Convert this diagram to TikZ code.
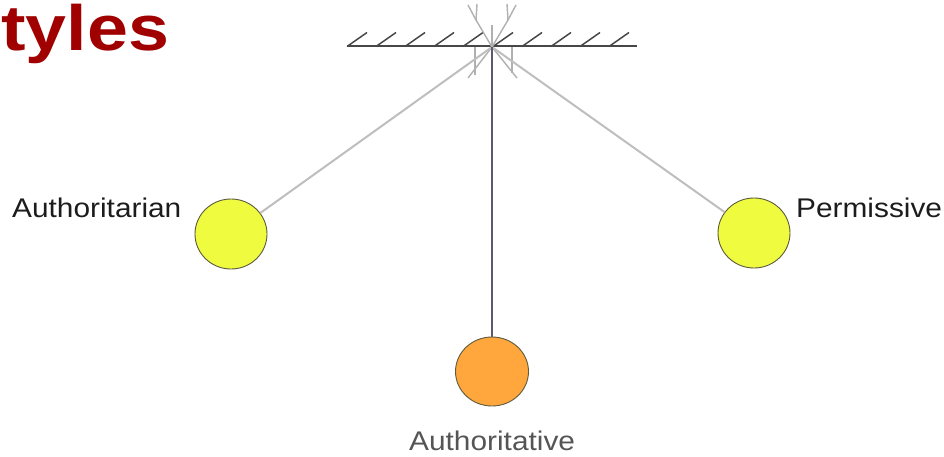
\documentclass[tikz,border=0pt]{standalone}
\usepackage{fontspec}
\setmainfont{Liberation Sans}
\usetikzlibrary{shapes.geometric}
\definecolor{titlered}{HTML}{A00000}
\definecolor{bobyellow}{HTML}{EEFB3E}
\definecolor{boborange}{HTML}{FFA73D}
\definecolor{bobedge}{HTML}{5E5A3C}
\definecolor{labeldark}{HTML}{1C1C1C}
\definecolor{labelgray}{HTML}{555555}
\definecolor{stringlight}{HTML}{BEBEBE}
\definecolor{stringdark}{HTML}{5A5A70}
\definecolor{ceilgray}{HTML}{474747}
\definecolor{ghost}{HTML}{B0B0B0}
\newcommand\widetext[1]{\scalebox{1.105}[1]{#1}}
\tikzset{
  bob/.style={ellipse, draw=bobedge, line width=0.9pt, minimum width=72pt, minimum height=70pt, inner sep=0pt},
  label/.style={anchor=base west, inner sep=0pt, font=\fontsize{27}{30}\selectfont},
  lightstring/.style={draw=stringlight, line width=2pt},
  ghostline/.style={draw=ghost, line width=1.4pt},
  hatch/.style={draw=ceilgray, line width=1.5pt},
}
\begin{document}
\begin{tikzpicture}[x=1pt, y=-1pt]
\useasboundingbox (0,0) rectangle (944,457);

% heading fragment
\node[anchor=base west, inner sep=0pt, text=titlered, font=\fontsize{64}{70}\selectfont\bfseries] (title) at (1,51) {\scalebox{1.15}[1]{tyles}};

% ceiling with hatching
\coordinate (ceilL) at (347,46.5);
\coordinate (ceilR) at (637,46.5);
\coordinate (pivot) at (492,47);
\draw[draw=ceilgray, line width=2pt] (ceilL) -- (ceilR);
\foreach \hx in {347,376,405,434,463,493,522,551,580,609}
  \draw[hatch] (\hx,46.5) -- ++(20,-14);

% faint traces of the swing around the pivot
\coordinate (forkL) at (476,20);
\coordinate (forkR) at (508,20);
\draw[ghostline] (pivot) -- (forkL) -- (468,5);
\draw[ghostline] (forkL) -- (477,4);
\draw[ghostline] (pivot) -- (forkR) -- (516,5);
\draw[ghostline] (forkR) -- (507,4);
\draw[ghostline, line width=2.2pt] (492,25) -- (pivot);
\draw[ghostline] (475,47) -- (475,75);
\draw[ghostline] (512,47) -- (512,73);
\draw[ghostline] (pivot) -- (468,78);
\draw[ghostline] (pivot) -- (517,78);

% bobs
\node[bob, fill=bobyellow] (authoritarian) at (231,234) {};
\node[bob, fill=bobyellow] (permissive) at (754,233) {};
\node[bob, fill=boborange, minimum width=73pt, minimum height=69pt] (authoritative) at (492,371.5) {};

% strings
\draw[lightstring] (pivot) -- (authoritarian);
\draw[lightstring] (pivot) -- (permissive);
\draw[draw=stringdark, line width=1.9pt] (pivot) -- (authoritative);

% labels
\node[label, text=labeldark] (lblA) at (12,217) {\widetext{Authoritarian}};
\node[label, text=labeldark] (lblP) at (796,217) {\widetext{Permissive}};
\node[label, text=labelgray] (lblM) at (409,450) {\widetext{Authoritative}};
\end{tikzpicture}
\end{document}
